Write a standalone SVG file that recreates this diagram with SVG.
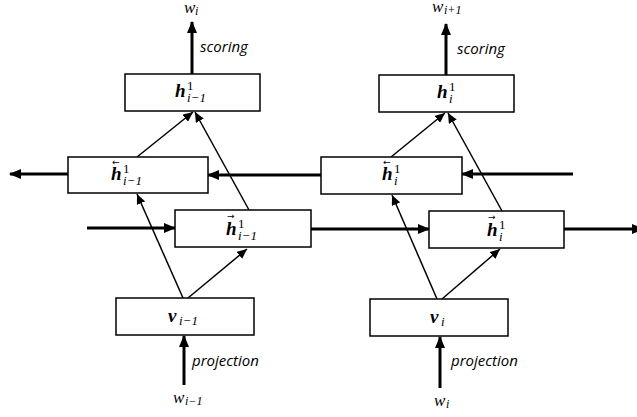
<svg xmlns="http://www.w3.org/2000/svg" width="637" height="417" viewBox="0 0 637 417">
<style>
.box{fill:#fff;stroke:#000;stroke-width:1.5}
.thick{stroke:#000;stroke-width:3;fill:none}
.thin{stroke:#000;stroke-width:1.5;fill:none}
.m{font-family:"Liberation Serif","DejaVu Serif",serif;font-style:italic;font-weight:bold;font-size:19px;fill:#000}
.ms{font-family:"Liberation Serif","DejaVu Serif",serif;font-style:italic;font-size:13px;fill:#000}
.mu{font-family:"Liberation Serif","DejaVu Serif",serif;font-size:13px;fill:#000}
.acc{font-family:"DejaVu Sans",sans-serif;font-size:9px;fill:#000}
.w{font-family:"Liberation Serif","DejaVu Serif",serif;font-style:italic;font-size:17px;fill:#000}
.wl{font-family:"Liberation Serif","DejaVu Serif",serif;font-style:italic;font-size:12px;fill:#000}
.lbl{font-family:"Open Sans","Liberation Sans",sans-serif;font-style:italic;font-size:15px;fill:#000}
</style>
<defs>
<marker id="ah" markerUnits="userSpaceOnUse" markerWidth="12" markerHeight="10" refX="11" refY="5" orient="auto"><path d="M0,0 L12,5 L0,10 Z" fill="#000"/></marker>
<marker id="at" markerUnits="userSpaceOnUse" markerWidth="10" markerHeight="9" refX="10" refY="4.5" orient="auto"><path d="M0,0 L10,4.5 L0,9 Z" fill="#000"/></marker>
</defs>
<g id="connectors">
<line class="thick" x1="192" y1="74" x2="192" y2="22" marker-end="url(#ah)"/>
<line class="thick" x1="446" y1="75" x2="446" y2="24" marker-end="url(#ah)"/>
<line class="thick" x1="68" y1="174" x2="10" y2="174" marker-end="url(#ah)"/>
<line class="thick" x1="321" y1="175" x2="208" y2="175" marker-end="url(#ah)"/>
<line class="thick" x1="573" y1="174" x2="462" y2="174" marker-end="url(#ah)"/>
<line class="thick" x1="87" y1="228" x2="175" y2="228" marker-end="url(#ah)"/>
<line class="thick" x1="311" y1="229" x2="429" y2="229" marker-end="url(#ah)"/>
<line class="thick" x1="564" y1="229" x2="643" y2="229" marker-end="url(#ah)"/>
<line class="thick" x1="184" y1="385" x2="184" y2="336" marker-end="url(#ah)"/>
<line class="thick" x1="440" y1="388" x2="440" y2="337" marker-end="url(#ah)"/>
<line class="thin" x1="137" y1="157" x2="193" y2="112" marker-end="url(#at)"/>
<line class="thin" x1="249" y1="210" x2="195" y2="112" marker-end="url(#at)"/>
<line class="thin" x1="183" y1="298" x2="137" y2="194" marker-end="url(#at)"/>
<line class="thin" x1="188" y1="298" x2="247" y2="249" marker-end="url(#at)"/>
<line class="thin" x1="391" y1="157" x2="445" y2="113" marker-end="url(#at)"/>
<line class="thin" x1="502" y1="211" x2="448" y2="113" marker-end="url(#at)"/>
<line class="thin" x1="437" y1="299" x2="392" y2="195" marker-end="url(#at)"/>
<line class="thin" x1="442" y1="299" x2="500" y2="249" marker-end="url(#at)"/>
<text class="lbl" x="200" y="52">scoring</text>
<text class="lbl" x="457" y="54">scoring</text>
<text class="lbl" x="192" y="366">projection</text>
<text class="lbl" x="451" y="366">projection</text>
<text class="w" x="184" y="13">w</text><text class="wl" x="195" y="15">i</text>
<text class="w" x="432" y="12">w</text><text class="wl" x="444" y="14">i+1</text>
<text class="w" x="173" y="403">w</text><text class="wl" x="185" y="405">i−1</text>
<text class="w" x="434" y="406">w</text><text class="wl" x="446" y="408">i</text>
</g>
<g id="h_im1">
<rect class="box" x="125" y="74" width="135" height="37"/>
<text class="m" x="175" y="97">h</text><text class="mu" x="187" y="90">1</text><text class="ms" x="187" y="102">i−1</text>
</g>
<g id="h_i">
<rect class="box" x="379" y="75" width="135" height="37"/>
<text class="m" x="437" y="98">h</text><text class="mu" x="449" y="91">1</text><text class="ms" x="449" y="103">i</text>
</g>
<g id="hb_im1">
<rect class="box" x="68" y="157" width="140" height="36"/>
<text class="acc" x="112" y="165">←</text>
<text class="m" x="111" y="180">h</text><text class="mu" x="123" y="173">1</text><text class="ms" x="123" y="185">i−1</text>
</g>
<g id="hb_i">
<rect class="box" x="321" y="157" width="141" height="37"/>
<text class="acc" x="383" y="165">←</text>
<text class="m" x="382" y="180">h</text><text class="mu" x="394" y="173">1</text><text class="ms" x="394" y="185">i</text>
</g>
<g id="hf_im1">
<rect class="box" x="175" y="210" width="136" height="37"/>
<text class="acc" x="227" y="219">→</text>
<text class="m" x="226" y="235">h</text><text class="mu" x="238" y="228">1</text><text class="ms" x="238" y="240">i−1</text>
</g>
<g id="hf_i">
<rect class="box" x="429" y="211" width="135" height="37"/>
<text class="acc" x="488" y="220">→</text>
<text class="m" x="487" y="236">h</text><text class="mu" x="499" y="229">1</text><text class="ms" x="499" y="241">i</text>
</g>
<g id="v_im1">
<rect class="box" x="116" y="298" width="138" height="37"/>
<text class="m" x="168" y="322">v</text><text class="ms" x="179" y="325">i−1</text>
</g>
<g id="v_i">
<rect class="box" x="370" y="299" width="138" height="37"/>
<text class="m" x="430" y="323">v</text><text class="ms" x="441" y="326">i</text>
</g>
</svg>
